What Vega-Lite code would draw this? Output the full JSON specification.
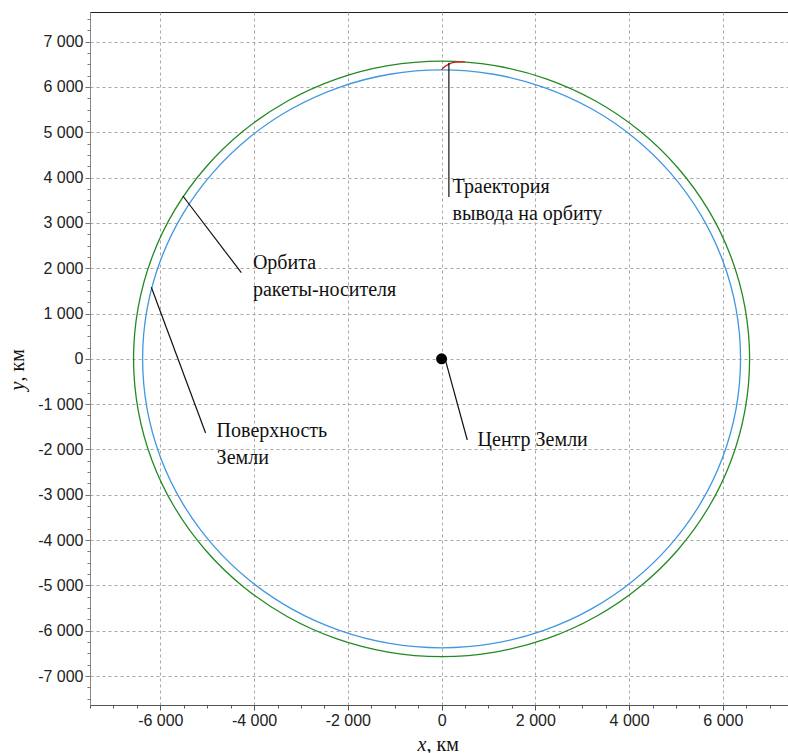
{
  "$schema": "https://vega.github.io/schema/vega-lite/v6.json",
  "width": 698,
  "height": 693,
  "autosize": {"type": "none"},
  "padding": {"left": 90, "top": 12, "right": 0, "bottom": 48},
  "background": "white",
  "config": {"view": {"stroke": "#222", "strokeWidth": 1}, "font": "Liberation Sans"},
  "resolve": {"axis": {"x": "independent", "y": "independent"}},
  "layer": [
    {
      "data": {"values": [
        {"c": "earth", "i": 0, "x": 6378, "y": 0},
        {"c": "earth", "i": 1, "x": 6281, "y": 1108},
        {"c": "earth", "i": 2, "x": 5993, "y": 2181},
        {"c": "earth", "i": 3, "x": 5524, "y": 3189},
        {"c": "earth", "i": 4, "x": 4886, "y": 4100},
        {"c": "earth", "i": 5, "x": 4100, "y": 4886},
        {"c": "earth", "i": 6, "x": 3189, "y": 5524},
        {"c": "earth", "i": 7, "x": 2181, "y": 5993},
        {"c": "earth", "i": 8, "x": 1108, "y": 6281},
        {"c": "earth", "i": 9, "x": 0, "y": 6378},
        {"c": "earth", "i": 10, "x": -1108, "y": 6281},
        {"c": "earth", "i": 11, "x": -2181, "y": 5993},
        {"c": "earth", "i": 12, "x": -3189, "y": 5524},
        {"c": "earth", "i": 13, "x": -4100, "y": 4886},
        {"c": "earth", "i": 14, "x": -4886, "y": 4100},
        {"c": "earth", "i": 15, "x": -5524, "y": 3189},
        {"c": "earth", "i": 16, "x": -5993, "y": 2181},
        {"c": "earth", "i": 17, "x": -6281, "y": 1108},
        {"c": "earth", "i": 18, "x": -6378, "y": 0},
        {"c": "earth", "i": 19, "x": -6281, "y": -1108},
        {"c": "earth", "i": 20, "x": -5993, "y": -2181},
        {"c": "earth", "i": 21, "x": -5524, "y": -3189},
        {"c": "earth", "i": 22, "x": -4886, "y": -4100},
        {"c": "earth", "i": 23, "x": -4100, "y": -4886},
        {"c": "earth", "i": 24, "x": -3189, "y": -5524},
        {"c": "earth", "i": 25, "x": -2181, "y": -5993},
        {"c": "earth", "i": 26, "x": -1108, "y": -6281},
        {"c": "earth", "i": 27, "x": 0, "y": -6378},
        {"c": "earth", "i": 28, "x": 1108, "y": -6281},
        {"c": "earth", "i": 29, "x": 2181, "y": -5993},
        {"c": "earth", "i": 30, "x": 3189, "y": -5524},
        {"c": "earth", "i": 31, "x": 4100, "y": -4886},
        {"c": "earth", "i": 32, "x": 4886, "y": -4100},
        {"c": "earth", "i": 33, "x": 5524, "y": -3189},
        {"c": "earth", "i": 34, "x": 5993, "y": -2181},
        {"c": "earth", "i": 35, "x": 6281, "y": -1108},
        {"c": "orbit", "i": 0, "x": 6571, "y": 0},
        {"c": "orbit", "i": 1, "x": 6471, "y": 1141},
        {"c": "orbit", "i": 2, "x": 6175, "y": 2247},
        {"c": "orbit", "i": 3, "x": 5691, "y": 3286},
        {"c": "orbit", "i": 4, "x": 5034, "y": 4224},
        {"c": "orbit", "i": 5, "x": 4224, "y": 5034},
        {"c": "orbit", "i": 6, "x": 3286, "y": 5691},
        {"c": "orbit", "i": 7, "x": 2247, "y": 6175},
        {"c": "orbit", "i": 8, "x": 1141, "y": 6471},
        {"c": "orbit", "i": 9, "x": 0, "y": 6571},
        {"c": "orbit", "i": 10, "x": -1141, "y": 6471},
        {"c": "orbit", "i": 11, "x": -2247, "y": 6175},
        {"c": "orbit", "i": 12, "x": -3286, "y": 5691},
        {"c": "orbit", "i": 13, "x": -4224, "y": 5034},
        {"c": "orbit", "i": 14, "x": -5034, "y": 4224},
        {"c": "orbit", "i": 15, "x": -5691, "y": 3286},
        {"c": "orbit", "i": 16, "x": -6175, "y": 2247},
        {"c": "orbit", "i": 17, "x": -6471, "y": 1141},
        {"c": "orbit", "i": 18, "x": -6571, "y": 0},
        {"c": "orbit", "i": 19, "x": -6471, "y": -1141},
        {"c": "orbit", "i": 20, "x": -6175, "y": -2247},
        {"c": "orbit", "i": 21, "x": -5691, "y": -3286},
        {"c": "orbit", "i": 22, "x": -5034, "y": -4224},
        {"c": "orbit", "i": 23, "x": -4224, "y": -5034},
        {"c": "orbit", "i": 24, "x": -3286, "y": -5691},
        {"c": "orbit", "i": 25, "x": -2247, "y": -6175},
        {"c": "orbit", "i": 26, "x": -1141, "y": -6471},
        {"c": "orbit", "i": 27, "x": 0, "y": -6571},
        {"c": "orbit", "i": 28, "x": 1141, "y": -6471},
        {"c": "orbit", "i": 29, "x": 2247, "y": -6175},
        {"c": "orbit", "i": 30, "x": 3286, "y": -5691},
        {"c": "orbit", "i": 31, "x": 4224, "y": -5034},
        {"c": "orbit", "i": 32, "x": 5034, "y": -4224},
        {"c": "orbit", "i": 33, "x": 5691, "y": -3286},
        {"c": "orbit", "i": 34, "x": 6175, "y": -2247},
        {"c": "orbit", "i": 35, "x": 6471, "y": -1141}
      ]},
      "mark": {"type": "line", "interpolate": "cardinal-closed", "strokeWidth": 1.3},
      "encoding": {
        "x": {
          "field": "x", "type": "quantitative",
          "scale": {"domain": [-7500, 7390], "nice": false, "zero": false},
          "axis": {
            "orient": "bottom",
            "values": [-6000, -4000, -2000, 0, 2000, 4000, 6000],
            "labelExpr": "datum.value == 0 ? '0' : (datum.value < 0 ? '-' : '') + (abs(datum.value) / 1000) + ' 000'",
            "labelFont": "Liberation Sans", "labelFontSize": 16, "labelColor": "#222",
            "labelPadding": 2, "labelFlush": false, "labelOverlap": false,
            "tickSize": 5, "tickColor": "#555", "domainColor": "#555",
            "grid": true, "gridColor": "#a8a8a8", "gridDash": [3, 3], "gridOpacity": 1,
            "title": "x", "titleFont": "Liberation Serif", "titleFontStyle": "italic",
            "titleFontSize": 20, "titleFontWeight": "normal", "titleColor": "#111",
            "titleX": 327, "titleY": 45, "titleAlign": "left", "titleBaseline": "alphabetic"
          }
        },
        "y": {
          "field": "y", "type": "quantitative",
          "scale": {"domain": [-7640, 7655], "nice": false, "zero": false},
          "axis": {
            "orient": "left",
            "values": [-7000, -6000, -5000, -4000, -3000, -2000, -1000, 0, 1000, 2000, 3000, 4000, 5000, 6000, 7000],
            "labelExpr": "datum.value == 0 ? '0' : (datum.value < 0 ? '-' : '') + (abs(datum.value) / 1000) + ' 000'",
            "labelFont": "Liberation Sans", "labelFontSize": 16, "labelColor": "#222",
            "labelPadding": 2, "labelFlush": false, "labelOverlap": false,
            "tickSize": 5, "tickColor": "#777", "domainColor": "#888",
            "grid": true, "gridColor": "#a8a8a8", "gridDash": [3, 3], "gridOpacity": 1,
            "title": "y", "titleFont": "Liberation Serif", "titleFontStyle": "italic",
            "titleFontSize": 20, "titleFontWeight": "normal", "titleColor": "#111",
            "titleAngle": 270, "titleX": -67, "titleY": 378, "titleAlign": "left", "titleBaseline": "alphabetic"
          }
        },
        "order": {"field": "i", "type": "quantitative"},
        "color": {
          "field": "c", "type": "nominal",
          "scale": {"domain": ["earth", "orbit"], "range": ["#3f98e0", "#238a23"]},
          "legend": null
        }
      }
    },
    {
      "data": {"values": [
        {"i": 0, "x": 0, "y": 6378},
        {"i": 1, "x": 30, "y": 6415},
        {"i": 2, "x": 80, "y": 6460},
        {"i": 3, "x": 150, "y": 6500},
        {"i": 4, "x": 213, "y": 6530},
        {"i": 5, "x": 341, "y": 6552},
        {"i": 6, "x": 500, "y": 6556}
      ]},
      "mark": {"type": "line", "color": "#d42020", "strokeWidth": 1.3},
      "encoding": {
        "x": {"field": "x", "type": "quantitative", "scale": {"domain": [-7500, 7390], "nice": false, "zero": false}, "axis": null},
        "y": {"field": "y", "type": "quantitative", "scale": {"domain": [-7640, 7655], "nice": false, "zero": false}, "axis": null},
        "order": {"field": "i", "type": "quantitative"}
      }
    },
    {
      "data": {"values": [
        {"x": 156, "y": 6536, "x2": 156, "y2": 3572},
        {"x": -5518, "y": 3594, "x2": -4272, "y2": 1901},
        {"x": -6192, "y": 1579, "x2": -5034, "y2": -1636},
        {"x": 75, "y": 0, "x2": 548, "y2": -1791}
      ]},
      "mark": {"type": "rule", "color": "#111", "strokeWidth": 1.2},
      "encoding": {
        "x": {
          "field": "x", "type": "quantitative",
          "scale": {"domain": [-7500, 7390], "nice": false, "zero": false},
          "axis": {
            "orient": "bottom",
            "values": [-7500, -7000, -6500, -6000, -5500, -5000, -4500, -4000, -3500, -3000, -2500, -2000, -1500, -1000, -500, 0, 500, 1000, 1500, 2000, 2500, 3000, 3500, 4000, 4500, 5000, 5500, 6000, 6500, 7000],
            "labels": false, "grid": false, "domain": false,
            "tickSize": 3, "tickColor": "#555",
            "title": ", км", "titleFont": "Liberation Serif", "titleFontStyle": "normal",
            "titleFontSize": 20, "titleFontWeight": "normal", "titleColor": "#111",
            "titleX": 336, "titleY": 45, "titleAlign": "left", "titleBaseline": "alphabetic"
          }
        },
        "y": {
          "field": "y", "type": "quantitative",
          "scale": {"domain": [-7640, 7655], "nice": false, "zero": false},
          "axis": {
            "orient": "left",
            "values": [-7500, -7250, -7000, -6750, -6500, -6250, -6000, -5750, -5500, -5250, -5000, -4750, -4500, -4250, -4000, -3750, -3500, -3250, -3000, -2750, -2500, -2250, -2000, -1750, -1500, -1250, -1000, -750, -500, -250, 0, 250, 500, 750, 1000, 1250, 1500, 1750, 2000, 2250, 2500, 2750, 3000, 3250, 3500, 3750, 4000, 4250, 4500, 4750, 5000, 5250, 5500, 5750, 6000, 6250, 6500, 6750, 7000, 7250, 7500],
            "labels": false, "grid": false, "domain": false,
            "tickSize": 3, "tickColor": "#777",
            "title": ", км", "titleFont": "Liberation Serif", "titleFontStyle": "normal",
            "titleFontSize": 20, "titleFontWeight": "normal", "titleColor": "#111",
            "titleAngle": 270, "titleX": -67, "titleY": 369, "titleAlign": "left", "titleBaseline": "alphabetic"
          }
        },
        "x2": {"field": "x2"},
        "y2": {"field": "y2"}
      }
    },
    {
      "data": {"values": [{"x": 0, "y": 0}]},
      "mark": {"type": "point", "filled": true, "color": "#000", "size": 120, "opacity": 1},
      "encoding": {
        "x": {"field": "x", "type": "quantitative", "scale": {"domain": [-7500, 7390], "nice": false, "zero": false}, "axis": null},
        "y": {"field": "y", "type": "quantitative", "scale": {"domain": [-7640, 7655], "nice": false, "zero": false}, "axis": null}
      }
    },
    {
      "data": {"values": [
        {"x": 235, "y": 3661, "label": "Траектория\nвывода на орбиту"},
        {"x": -4025, "y": 1983, "label": "Орбита\nракеты-носителя"},
        {"x": -4799, "y": -1723, "label": "Поверхность\nЗемли"},
        {"x": 768, "y": -1922, "label": "Центр Земли"}
      ]},
      "mark": {"type": "text", "font": "Liberation Serif", "fontSize": 20, "color": "#111", "align": "left", "baseline": "alphabetic", "lineBreak": "\n", "lineHeight": 27},
      "encoding": {
        "x": {"field": "x", "type": "quantitative", "scale": {"domain": [-7500, 7390], "nice": false, "zero": false}, "axis": null},
        "y": {"field": "y", "type": "quantitative", "scale": {"domain": [-7640, 7655], "nice": false, "zero": false}, "axis": null},
        "text": {"field": "label"}
      }
    }
  ]
}
